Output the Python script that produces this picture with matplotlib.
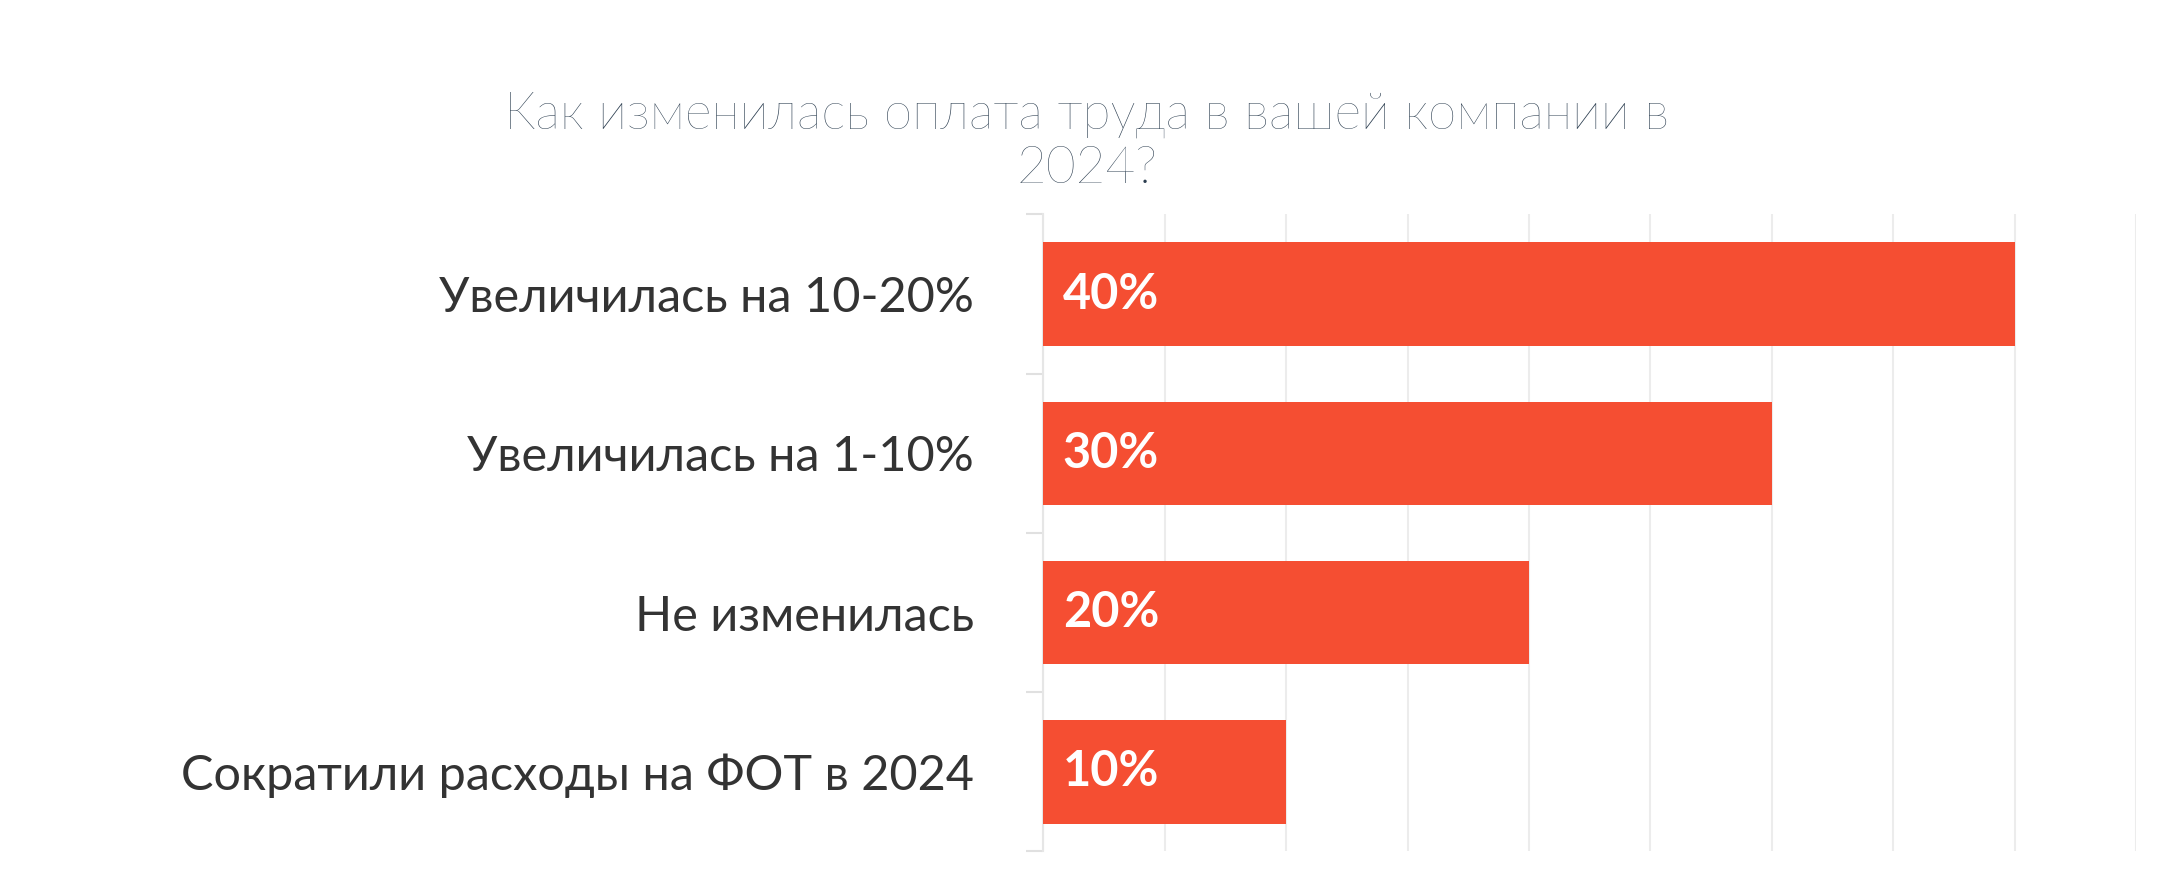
import matplotlib
matplotlib.use("Agg")
import matplotlib.pyplot as plt
from matplotlib.ticker import MultipleLocator

categories = ["Увеличилась на 10-20%", "Увеличилась на 1-10%", "Не изменилась", "Сократили расходы на ФОТ в 2024"]
values = [40, 30, 20, 10]
title = "Как изменилась оплата труда в вашей компании в\n2024?"

plt.rcParams['font.family'] = ['Lato', 'DejaVu Sans']
fig = plt.figure(figsize=(21.6, 8.86), dpi=100)
ax = fig.add_axes([0.483, 0.039, 0.506, 0.719])
y = list(range(len(categories)))
ax.barh(y, values, height=0.65, color="#f54e32", zorder=3)
ax.set_ylim(3.5, -0.5)
ax.set_xlim(0, 45)
ax.xaxis.set_major_locator(MultipleLocator(5))
ax.grid(axis='x', color='#ececec', linewidth=1.5, zorder=0)
ax.tick_params(axis='x', length=0, labelbottom=False)
ax.set_yticks(y)
ax.set_yticklabels(categories, fontsize=35, color='#333333')
ax.tick_params(axis='y', length=0, pad=50)
ax.set_yticks([-0.5, 0.5, 1.5, 2.5, 3.5], minor=True)
ax.tick_params(axis='y', which='minor', length=12, color='#e0e0e0', width=1.5)
for s in ['top', 'right', 'bottom']:
    ax.spines[s].set_visible(False)
ax.spines['left'].set_color('#e6e6e6')
ax.spines['left'].set_linewidth(1.5)
for yi, v in zip(y, values):
    ax.text(0.8, yi, f"{v}%", color='white', fontsize=35, fontweight='bold', va='center', ha='left', zorder=4)
fig.text(0.503, 0.84, title, ha='center', va='center', fontsize=37, color='#2c3e50', fontweight='light', linespacing=1.2)
fig.savefig("out.png", dpi=100)
